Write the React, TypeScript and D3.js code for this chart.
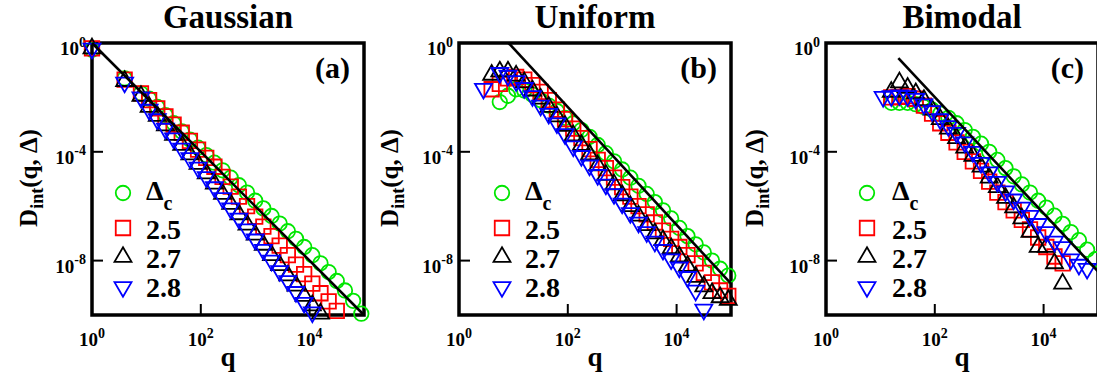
import React, { useEffect, useRef } from "react";
import * as d3 from "d3";

const _ = null;

// log10(q) bins, shared by every series
const qExp = [0, 0.15, 0.3, 0.45, 0.6, 0.75, 0.9, 1.05, 1.2, 1.35, 1.5, 1.65, 1.8, 1.95, 2.1, 2.25, 2.4, 2.55, 2.7, 2.85, 3.0, 3.15, 3.3, 3.45, 3.6, 3.75, 3.9, 4.05, 4.2, 4.35, 4.5, 4.65, 4.8, 4.95];

// log10 D_int(q, delta), one value per bin (null = no point)
const gaussDc = [-0.25, _, _, _, -1.3, _, -1.85, -2.05, -2.35, -2.65, -2.95, -3.25, -3.55, -3.85, -4.12, -4.4, -4.68, -4.95, -5.23, -5.5, -5.8, -6.08, -6.36, -6.64, -6.92, -7.2, -7.5, -7.8, -8.1, -8.42, -8.75, -9.1, -9.48, -9.95];
const gauss25 = [-0.2, _, _, _, -1.35, _, -1.85, -2.1, -2.4, -2.7, -3.0, -3.3, -3.6, -3.92, -4.22, -4.55, -4.92, -5.28, -5.65, -6.0, -6.38, -6.75, -7.1, -7.45, -7.8, -8.15, -8.5, -8.85, -9.2, -9.5, -9.85];
const gauss27 = [-0.2, _, _, _, -1.4, _, -1.95, -2.35, -2.68, -3.03, -3.38, -3.75, -4.1, -4.45, -4.8, -5.17, -5.55, -5.92, -6.3, -6.68, -7.05, -7.42, -7.8, -8.17, -8.55, -8.92, -9.3, -9.65, -9.95];
const gauss28 = [-0.2, _, _, _, -1.45, _, -2.0, -2.45, -2.8, -3.15, -3.5, -3.88, -4.23, -4.58, -4.93, -5.3, -5.7, -6.08, -6.45, -6.85, -7.22, -7.6, -8.0, -8.38, -8.75, -9.15, -9.55, -9.9];

const unifDc = [_, _, _, _, _, -2.17, -1.94, -1.7, -1.75, -1.9, -2.1, -2.3, -2.5, -2.75, -2.95, -3.2, -3.45, -3.75, -4.05, -4.35, -4.65, -4.95, -5.25, -5.55, -5.85, -6.15, -6.45, -6.8, -7.1, -7.4, -7.7, -8.0, -8.3, -8.55];
const unif25 = [_, _, _, _, -1.7, -1.5, -1.3, -1.25, -1.35, -1.55, -1.8, -2.1, -2.45, -2.8, -3.15, -3.5, -3.9, -4.3, -4.6, -4.95, -5.3, -5.65, -6.0, -6.3, -6.6, -6.9, -7.2, -7.5, -7.8, -8.1, -8.45, -8.8, -9.1, -9.3];
const unif27 = [_, _, _, _, -1.17, -1.05, -1.05, -1.2, -1.45, -1.75, -2.05, -2.35, -2.7, -3.05, -3.4, -3.75, -4.1, -4.5, -4.85, -5.2, -5.6, -6.0, -6.35, -6.7, -7.0, -7.25, -7.55, -7.85, -8.2, -8.6, -8.95, -9.2, -9.35, -9.45];
const unif28 = [_, _, _, -1.68, _, -1.1, -1.2, -1.4, -1.65, -1.95, -2.3, -2.6, -2.95, -3.35, -3.8, -4.15, -4.5, -4.85, -5.2, -5.55, -5.9, -6.25, -6.6, -6.95, -7.3, -7.6, -7.95, -8.25, -8.6, -9.1, -9.8];

const bimoDc = [_, _, _, _, _, _, _, _, -2.2, -2.2, -2.2, -2.25, -2.35, -2.45, -2.6, -2.75, -2.95, -3.2, -3.45, -3.7, -4.0, -4.3, -4.6, -4.9, -5.2, -5.5, -5.8, -6.05, -6.35, -6.65, -6.95, -7.25, -7.6, -7.95];
const bimo25 = [_, _, _, _, _, _, _, _, -2.0, -1.98, -1.95, -2.05, -2.3, -2.6, -2.95, -3.3, -3.65, -4.0, -4.35, -4.7, -5.1, -5.5, -5.85, -6.15, -6.5, -6.85, -7.15, -7.5, -7.85, -8.1];
const bimo27 = [_, _, _, _, _, _, _, _, -1.8, -1.45, -1.65, -1.85, -2.1, -2.45, -2.8, -3.15, -3.5, -3.85, -4.15, -4.55, -4.95, -5.3, -5.7, -6.05, -6.45, -6.95, -7.5, -7.5, -8.1, -8.85];
const bimo28 = [_, _, _, _, _, _, _, -1.98, -1.95, -1.92, -1.95, -2.05, -2.25, -2.5, -2.8, -3.05, -3.3, -3.65, -4.0, -4.4, -4.75, -5.1, -5.45, -5.75, -6.05, -6.35, -6.65, -6.95, -7.3, -7.5, -7.95, -8.15, -8.3];

// power-law guide lines, endpoints as [log10 q, log10 D]
const gaussFit = [[0, 0], [5, -10]];
const unifFit = [[0.91, 0], [5, -8.85]];
const bimoFit = [[1.33, -0.56], [5, -8.4]];

const titles = ["Gaussian", "Uniform", "Bimodal"];
const panelTags = ["(a)", "(b)", "(c)"];
const legendLabels = ["2.5", "2.7", "2.8"];
const xTickExp = [0, 2, 4];
const yTickExp = [0, -4, -8];

const panels = [
  { title: titles[0], tag: panelTags[0], series: [gaussDc, gauss25, gauss27, gauss28], fit: gaussFit },
  { title: titles[1], tag: panelTags[1], series: [unifDc, unif25, unif27, unif28], fit: unifFit },
  { title: titles[2], tag: panelTags[2], series: [bimoDc, bimo25, bimo27, bimo28], fit: bimoFit }
];

// ------------------ layout / style
const W = 1097;
const H = 385;
const panelLeft = [92, 459, 826];
const plotTop = 43;
const plotSize = 272;
const legendSymX = [31, 43, 41];
const legendTextX = [54, 66, 66];
const yLabelOff = [55, 61, 63];
const legendY = [193, 228, 257, 287];
const legendBase = [200, 239, 268, 297];
const font = "Liberation Serif, Times New Roman, Times, serif";
const colors = ["#00e600", "#ff0000", "#000000", "#0000ff"];
const shapes = [d3.symbolCircle, d3.symbolSquare, d3.symbolTriangle, d3.symbolTriangle];
const shapeSize = [165, 210, 125, 125];
const shapeRot = [0, 0, 0, 180];

const Chart = () => {
  const svgRef = useRef();

  useEffect(() => {
    const svg = d3.select(svgRef.current);
    svg.selectAll("*").remove();

    panels.forEach((p, i) => {
      const left = panelLeft[i];
      // ---------------------- scale
      const x = d3.scaleLog().domain([1, 1e5]).range([left, left + plotSize]);
      const y = d3.scaleLog().domain([1e-10, 1]).range([plotTop + plotSize, plotTop]);
      const g = svg.append("g");

      // ---------------------- frame + ticks
      g.append("rect")
        .attr("x", left)
        .attr("y", plotTop)
        .attr("width", plotSize)
        .attr("height", plotSize)
        .attr("fill", "none")
        .attr("stroke", "#000")
        .attr("stroke-width", 3.5);

      g.selectAll(".xtick")
        .data(xTickExp)
        .join("line")
        .attr("x1", d => x(10 ** d))
        .attr("x2", d => x(10 ** d))
        .attr("y1", plotTop + plotSize)
        .attr("y2", plotTop + plotSize - 11)
        .attr("stroke", "#000")
        .attr("stroke-width", 2);

      g.selectAll(".ytick")
        .data(yTickExp)
        .join("line")
        .attr("x1", left)
        .attr("x2", left + 11)
        .attr("y1", d => y(10 ** d))
        .attr("y2", d => y(10 ** d))
        .attr("stroke", "#000")
        .attr("stroke-width", 2);

      const xl = g.selectAll(".xlab")
        .data(xTickExp)
        .join("text")
        .attr("x", d => x(10 ** d))
        .attr("y", 346)
        .attr("text-anchor", "middle")
        .style("font-size", "19px");
      xl.append("tspan").text("10");
      xl.append("tspan").attr("dy", -8.5).style("font-size", "14px").text(d => d);

      const yl = g.selectAll(".ylab")
        .data(yTickExp)
        .join("text")
        .attr("x", left - 6)
        .attr("y", d => y(10 ** d) + 12)
        .attr("text-anchor", "end")
        .style("font-size", "19px");
      yl.append("tspan").text("10");
      yl.append("tspan").attr("dy", -8.5).style("font-size", "14px").text(d => d);

      // ---------------------- titles
      g.append("text")
        .attr("x", left + plotSize / 2)
        .attr("y", 28)
        .attr("text-anchor", "middle")
        .style("font-size", "33px")
        .text(p.title);

      g.append("text")
        .attr("x", left + 258)
        .attr("y", 78)
        .attr("text-anchor", "end")
        .style("font-size", "30px")
        .text(p.tag);

      g.append("text")
        .attr("x", left + plotSize / 2)
        .attr("y", 366)
        .attr("text-anchor", "middle")
        .style("font-size", "27px")
        .text("q");

      const ylab = g.append("text")
        .attr("transform", `translate(${left - yLabelOff[i]},178) rotate(-90)`)
        .attr("text-anchor", "middle")
        .style("font-size", "25px");
      ylab.append("tspan").text("D");
      ylab.append("tspan").attr("dy", 6).style("font-size", "18px").text("int");
      ylab.append("tspan").attr("dy", -6).text("(q, \u0394)");

      // ---------------------- markers
      p.series.forEach((s, k) => {
        const pts = qExp
          .map((e, j) => [e, s[j]])
          .filter(d => d[1] !== null && d[1] !== undefined);
        const sym = d3.symbol().type(shapes[k]).size(shapeSize[k]);
        g.append("g")
          .selectAll("path")
          .data(pts)
          .join("path")
          .attr("d", sym)
          .attr("transform", d => `translate(${x(10 ** d[0])},${y(10 ** d[1])}) rotate(${shapeRot[k]})`)
          .attr("fill", "none")
          .attr("stroke", colors[k])
          .attr("stroke-width", 1.8);
      });

      // ---------------------- guide line
      g.append("path")
        .attr("d", d3.line().x(d => x(10 ** d[0])).y(d => y(10 ** d[1]))(p.fit))
        .attr("stroke", "#000")
        .attr("stroke-width", 2.6)
        .attr("fill", "none");

      // ---------------------- legend
      colors.forEach((c, k) => {
        g.append("path")
          .attr("d", d3.symbol().type(shapes[k]).size(shapeSize[k])())
          .attr("transform", `translate(${left + legendSymX[i]},${legendY[k]}) rotate(${shapeRot[k]})`)
          .attr("fill", "none")
          .attr("stroke", c)
          .attr("stroke-width", 1.8);
      });
      const dc = g.append("text")
        .attr("x", left + legendTextX[i])
        .attr("y", legendBase[0])
        .style("font-size", "28px");
      dc.append("tspan").text("\u0394");
      dc.append("tspan").attr("dy", 10).style("font-size", "20px").text("c");
      legendLabels.forEach((t, k) => {
        g.append("text")
          .attr("x", left + legendTextX[i])
          .attr("y", legendBase[k + 1])
          .style("font-size", "28px")
          .text(t);
      });
    });
  }, []);

  return (
    <div style={{ position: "absolute", left: 0, top: 0, background: "#fff" }}>
      <svg
        ref={svgRef}
        width={W}
        height={H}
        style={{ fontFamily: font, fontWeight: "bold", display: "block" }}
      />
    </div>
  );
};

export default function App() {
  return <Chart />;
}
